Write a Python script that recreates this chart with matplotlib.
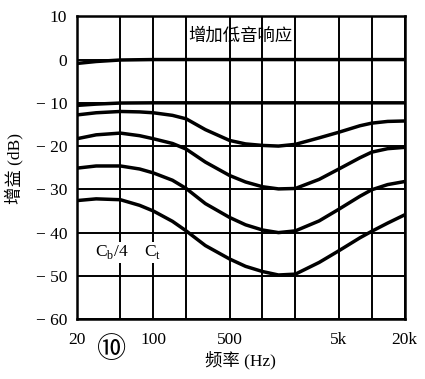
import numpy as np
import matplotlib
matplotlib.use("Agg")
import matplotlib.pyplot as plt

# ---- data ----
freq = [20, 30, 50, 75, 100, 150, 200, 300, 500, 700, 1000, 1400, 2000,
        3300, 5000, 7800, 10000, 14000, 20000]
curve_c = [-12.8, -12.3, -12.0, -12.1, -12.3, -12.9, -13.7, -16.2, -18.7, -19.5,
           -19.85, -20.0, -19.6, -18.1, -16.8, -15.3, -14.7, -14.3, -14.2]
curve_d = [-18.3, -17.4, -17.0, -17.6, -18.3, -19.4, -20.7, -23.7, -26.8, -28.3,
           -29.4, -29.9, -29.8, -27.7, -25.3, -22.7, -21.4, -20.6, -20.3]
curve_e = [-25.1, -24.6, -24.6, -25.3, -26.2, -27.9, -29.8, -33.3, -36.5, -38.2,
           -39.4, -40.0, -39.6, -37.3, -34.6, -31.6, -30.1, -28.9, -28.2]
curve_f = [-32.6, -32.2, -32.4, -33.7, -35.0, -37.4, -39.6, -43.0, -46.1, -47.8,
           -49.0, -49.8, -49.6, -46.9, -44.2, -41.2, -39.7, -37.8, -35.9]
flat_freq = [20, 30, 50, 100, 20000]
curve_a = [-0.9, -0.45, -0.1, 0.0, 0.0]
curve_b = [-10.6, -10.3, -10.05, -10.0, -10.0]

grid_freqs = [20, 50, 100, 200, 500, 1000, 2000, 5000, 10000, 20000]
xtick_vals = [20, 100, 500, 5000, 20000]
xtick_labels = ["20", "100", "500", "5k", "20k"]
ytick_vals = [10, 0, -10, -20, -30, -40, -50, -60]
ytick_labels = ["10", "0", "\u2212 10", "\u2212 20", "\u2212 30", "\u2212 40", "\u2212 50", "\u2212 60"]

title_text = "增加低音响应"
xlabel_text = "频率 (Hz)"
ylabel_text = "增益 (dB)"
fig_number = "⑩"
ann_cb = r"C$_{\mathrm{b}}$/4"
ann_ct = r"C$_{\mathrm{t}}$"

# ---- figure ----
plt.rcParams['font.family'] = ['Liberation Serif', 'Noto Sans CJK SC', 'DejaVu Sans']
plt.rcParams['mathtext.fontset'] = 'custom'
plt.rcParams['mathtext.rm'] = 'Liberation Serif'

fig = plt.figure(figsize=(4.25, 3.79), dpi=100)
ax = fig.add_axes([0.181, 0.158, 0.771, 0.799])

ax.set_xscale('log')
ax.set_xlim(20, 20000)
ax.set_ylim(-60, 10)

for f in grid_freqs:
    ax.axvline(f, color='black', lw=1.4, zorder=1)
for y in ytick_vals:
    ax.axhline(y, color='black', lw=1.4, zorder=1)

lw = 2.5
ax.plot(flat_freq, curve_a, color='black', lw=lw, zorder=3, solid_joinstyle='round')
ax.plot(flat_freq, curve_b, color='black', lw=lw, zorder=3, solid_joinstyle='round')
for c in (curve_c, curve_d, curve_e, curve_f):
    ax.plot(freq, c, color='black', lw=lw, zorder=3, solid_joinstyle='round',
            solid_capstyle='round')

ax.set_xticks(xtick_vals)
ax.set_xticklabels(xtick_labels)
ax.xaxis.set_minor_locator(matplotlib.ticker.NullLocator())
ax.set_yticks(ytick_vals)
ax.set_yticklabels(ytick_labels)
ax.tick_params(axis='both', length=0, labelsize=12.5)
ax.tick_params(axis='x', pad=9)
ax.tick_params(axis='y', pad=7)

for s in ax.spines.values():
    s.set_linewidth(1.8)
    s.set_zorder(4)

ax.text(0.498, 0.935, title_text, transform=ax.transAxes, ha='center', va='center',
        fontsize=12.5, family=['Noto Sans CJK SC'], zorder=5)

ax.text(0.106, 0.22, ann_cb, transform=ax.transAxes, ha='center', va='center',
        fontsize=12.5, zorder=5,
        bbox=dict(facecolor='white', edgecolor='none', pad=1.0))
ax.text(0.232, 0.22, ann_ct, transform=ax.transAxes, ha='center', va='center',
        fontsize=12.5, zorder=5,
        bbox=dict(facecolor='white', edgecolor='none', pad=1.0))

fig.text(240/425, 1 - 360/379, xlabel_text, ha='center', va='center', fontsize=12.5)
fig.text(14/425, 1 - 168/379, ylabel_text, ha='center', va='center', fontsize=12.5,
         rotation=90)
fig.text(112/425, 1 - 350/379, fig_number, ha='center', va='center', fontsize=21,
         family=['Noto Sans CJK SC', 'DejaVu Sans'])

fig.savefig("out.png", dpi=100)
